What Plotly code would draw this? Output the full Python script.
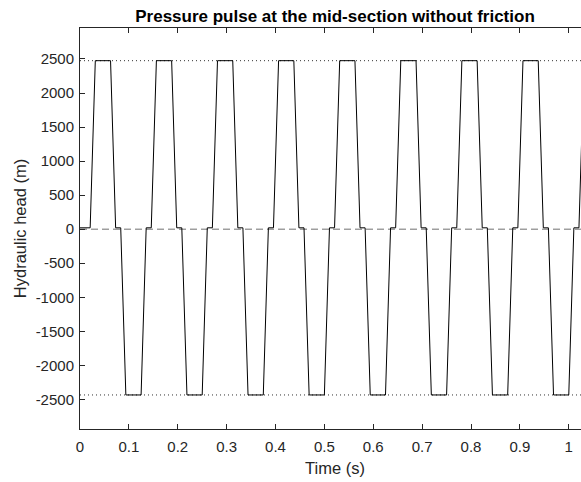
import plotly.graph_objects as go

# Time samples (s) of the mid-section head trace
time_s = [0.0, 0.0208, 0.0313, 0.0625, 0.0729, 0.0833, 0.0938, 0.125,
          0.1354, 0.1458, 0.1563, 0.1875, 0.1979, 0.2083, 0.2188, 0.25,
          0.2604, 0.2708, 0.2813, 0.3125, 0.3229, 0.3333, 0.3438, 0.375,
          0.3854, 0.3958, 0.4063, 0.4375, 0.4479, 0.4583, 0.4688, 0.5,
          0.5104, 0.5208, 0.5313, 0.5625, 0.5729, 0.5833, 0.5938, 0.625,
          0.6354, 0.6458, 0.6563, 0.6875, 0.6979, 0.7083, 0.7188, 0.75,
          0.7604, 0.7708, 0.7813, 0.8125, 0.8229, 0.8333, 0.8438, 0.875,
          0.8854, 0.8958, 0.9063, 0.9375, 0.9479, 0.9583, 0.9688, 1.0,
          1.0104, 1.0208, 1.0313, 1.0625]

# Hydraulic head (m)
head_m = [20, 20, 2475, 2475, 20, 20, -2435, -2435,
          20, 20, 2475, 2475, 20, 20, -2435, -2435,
          20, 20, 2475, 2475, 20, 20, -2435, -2435,
          20, 20, 2475, 2475, 20, 20, -2435, -2435,
          20, 20, 2475, 2475, 20, 20, -2435, -2435,
          20, 20, 2475, 2475, 20, 20, -2435, -2435,
          20, 20, 2475, 2475, 20, 20, -2435, -2435,
          20, 20, 2475, 2475, 20, 20, -2435, -2435,
          20, 20, 2475, 2475]

max_head = 2475
min_head = -2435
zero_head = 0

x_ticks = [0, 0.1, 0.2, 0.3, 0.4, 0.5, 0.6, 0.7, 0.8, 0.9, 1]
x_tick_labels = ["0", "0.1", "0.2", "0.3", "0.4", "0.5", "0.6", "0.7", "0.8", "0.9", "1"]
y_ticks = [-2500, -2000, -1500, -1000, -500, 0, 500, 1000, 1500, 2000, 2500]
y_tick_labels = ["-2500", "-2000", "-1500", "-1000", "-500", "0", "500", "1000", "1500", "2000", "2500"]

FONT = "Liberation Sans, Arial, Helvetica, sans-serif"
AX = "#262626"

fig = go.Figure()

fig.add_hline(y=max_head, line=dict(color="#333333", width=1, dash="1px,3px"), layer="below")
fig.add_hline(y=min_head, line=dict(color="#333333", width=1, dash="1px,3px"), layer="below")
fig.add_hline(y=zero_head, line=dict(color="#707070", width=1, dash="7px,4px"), layer="below")

fig.add_trace(go.Scatter(x=time_s, y=head_m, mode="lines",
                         line=dict(color="black", width=1), showlegend=False,
                         hoverinfo="skip"))

fig.update_layout(
    width=581, height=482,
    margin=dict(l=80, r=0, t=28, b=53),
    paper_bgcolor="white", plot_bgcolor="white",
    font=dict(family=FONT, size=15, color=AX),
    showlegend=False,
    title=dict(text="<b>Pressure pulse at the mid-section without friction</b>",
               font=dict(family=FONT, size=17, color="black"),
               x=0.509, xref="paper", xanchor="center",
               y=1, yref="paper", yanchor="bottom", pad=dict(b=6)),
    xaxis=dict(range=[0, 1.025], tickvals=x_ticks, ticktext=x_tick_labels,
               showgrid=False, zeroline=False, showline=True, linecolor=AX, linewidth=1,
               mirror="ticks", ticks="inside", ticklen=5, tickcolor=AX,
               tickfont=dict(size=15, color=AX), ticklabelstandoff=4),
    yaxis=dict(range=[-2935, 2955], tickvals=y_ticks, ticktext=y_tick_labels,
               showgrid=False, zeroline=False, showline=True, linecolor=AX, linewidth=1,
               mirror=False, ticks="inside", ticklen=5, tickcolor=AX,
               tickfont=dict(size=15, color=AX), ticklabelstandoff=2,
               title=dict(text="Hydraulic head (m)", font=dict(size=16.5, color=AX), standoff=4)),
    annotations=[dict(text="Time (s)", xref="paper", yref="paper", x=0.509, y=0,
                      xanchor="center", yanchor="middle", yshift=-39, showarrow=False,
                      font=dict(family=FONT, size=16.5, color=AX))],
)

fig.write_html("out.html", config={"displayModeBar": False})
